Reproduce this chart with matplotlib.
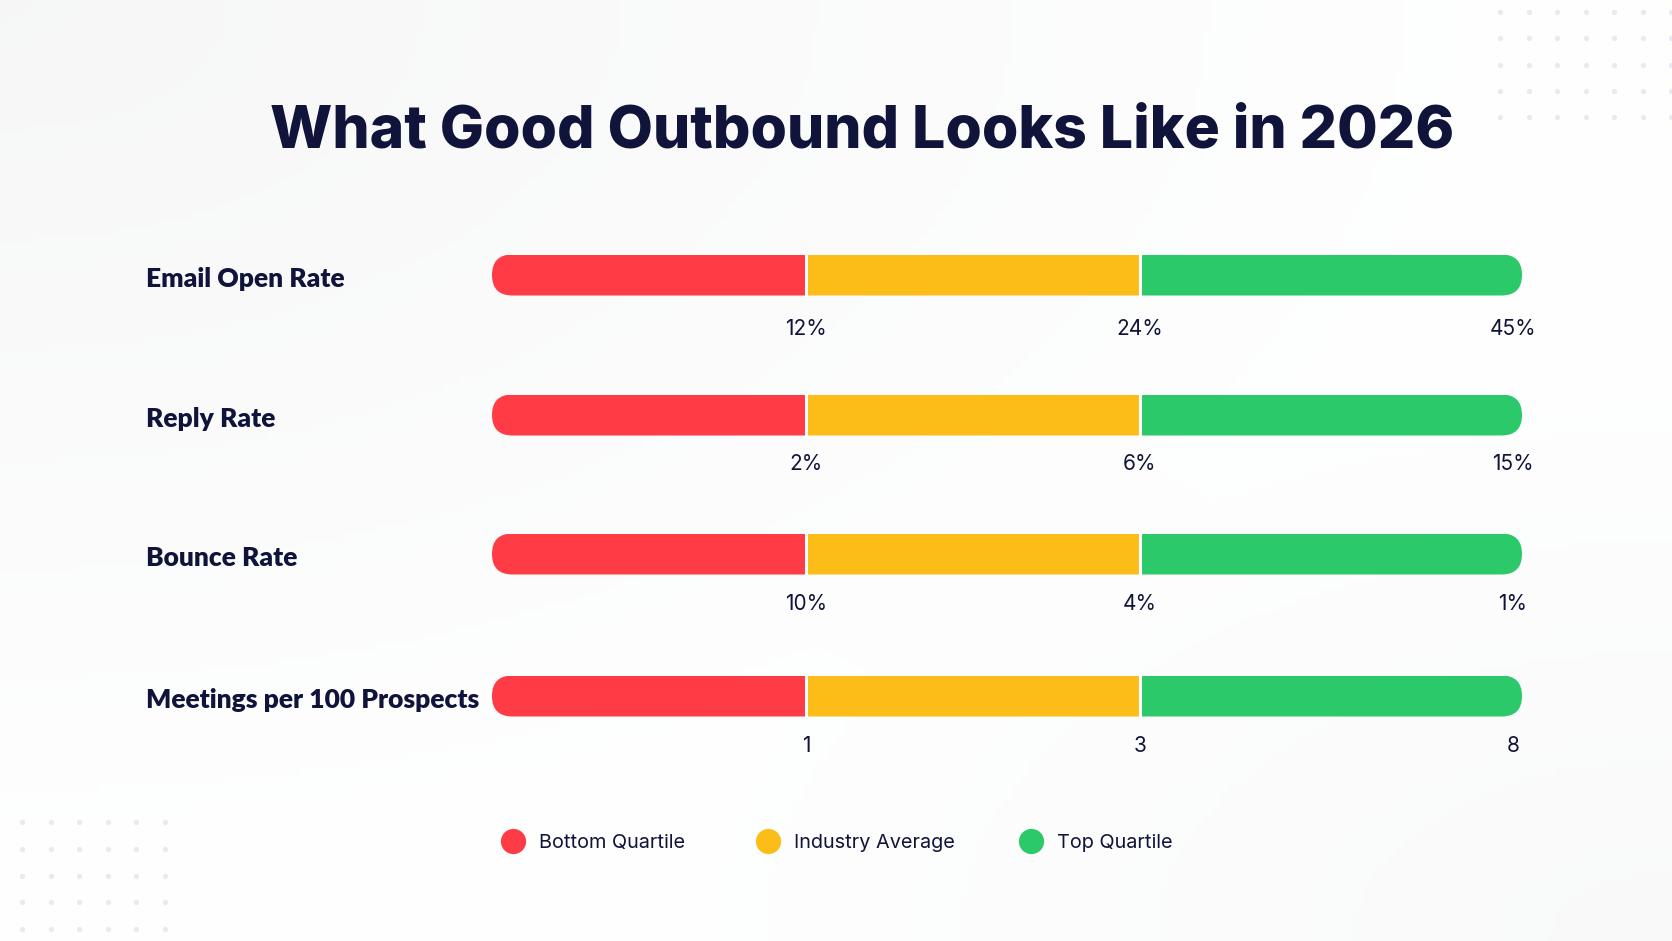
import matplotlib.pyplot as plt
import numpy as np
from matplotlib.patches import FancyBboxPatch, Rectangle

# data
metrics = ["Email Open Rate", "Reply Rate", "Bounce Rate", "Meetings per 100 Prospects"]
bottom_q = ["12%", "2%", "10%", "1"]
industry_avg = ["24%", "6%", "4%", "3"]
top_q = ["45%", "15%", "1%", "8"]
legend_names = ["Bottom Quartile", "Industry Average", "Top Quartile"]
colors = ["#FF3B46", "#FDBD18", "#2CC96A"]
navy = "#10133A"

plt.rcParams['font.family'] = ['Inter', 'DejaVu Sans']

W, H = 1672, 941
fig = plt.figure(figsize=(W / 100, H / 100), dpi=100)
ax = fig.add_axes([0, 0, 1, 1])
ax.set_xlim(0, W)
ax.set_ylim(H, 0)
ax.axis('off')

# soft background, a touch grey at top left and bottom right
gx = np.linspace(0, 1, 200)
gy = np.linspace(0, 1, 120)
GX, GY = np.meshgrid(gx, gy)
d1 = np.clip(1 - np.hypot(GX, GY) / 0.9, 0, 1)
d2 = np.clip(1 - np.hypot(1 - GX, 1 - GY) / 0.6, 0, 1)
shade = 1 - 0.03 * d1 - 0.02 * d2
bg = np.dstack([shade * 0.997, shade * 0.998, shade])
ax.imshow(bg, extent=[0, W, H, 0], aspect='auto', zorder=0)

# dot grids in corners
for xs, ys in [(np.arange(22, 170, 28.6), np.arange(822, 935, 26.8)),
               (np.arange(1500, 1680, 28.5), np.arange(12, 120, 26.3))]:
    DX, DY = np.meshgrid(xs, ys)
    ax.scatter(DX.ravel(), DY.ravel(), s=14, color="#E8E9F2", lw=0, zorder=1)

ax.text(862, 132, "What Good Outbound Looks Like in 2026", ha='center', va='center',
        fontsize=42.4, fontweight='heavy', color=navy, zorder=5)

x0, x1, x2, x3 = 492, 806, 1140, 1522
bar_h = 41
row_y = [275, 415, 554, 696]
label_off = [54, 49, 50, 50]

for i, name in enumerate(metrics):
    y = row_y[i]
    ax.text(146, y + 4, name, ha='left', va='center', fontsize=19, fontweight='heavy',
            color=navy, family=['Lato', 'DejaVu Sans'], zorder=5)
    shape = FancyBboxPatch((x0, y - bar_h / 2), x3 - x0, bar_h,
                           boxstyle="round,pad=0,rounding_size=20.5",
                           fc='none', ec='none', zorder=2)
    ax.add_patch(shape)
    for (a, b), c in zip([(x0, x1), (x1, x2), (x2, x3)], colors):
        r = Rectangle((a, y - bar_h / 2), b - a, bar_h, fc=c, ec='none', zorder=3)
        ax.add_patch(r)
        r.set_clip_path(shape)
    for xb in (x1, x2):
        ax.plot([xb, xb], [y - bar_h / 2, y + bar_h / 2], color='white', lw=2.2, zorder=4)
    ly = y + label_off[i]
    ax.text(x1, ly, bottom_q[i], ha='center', va='center', fontsize=15, color=navy, zorder=5)
    ax.text(x2, ly, industry_avg[i], ha='center', va='center', fontsize=15, color=navy, zorder=5)
    ax.text(1513, ly, top_q[i], ha='center', va='center', fontsize=15, color=navy, zorder=5)

# legend
leg_x = [513, 768, 1031]
for lx, name, c in zip(leg_x, legend_names, colors):
    ax.scatter([lx], [841], s=330, color=c, lw=0, zorder=5)
    ax.text(lx + 26, 843, name, ha='left', va='center', fontsize=14.3, color=navy, zorder=5)

plt.savefig("out.png", dpi=100)
